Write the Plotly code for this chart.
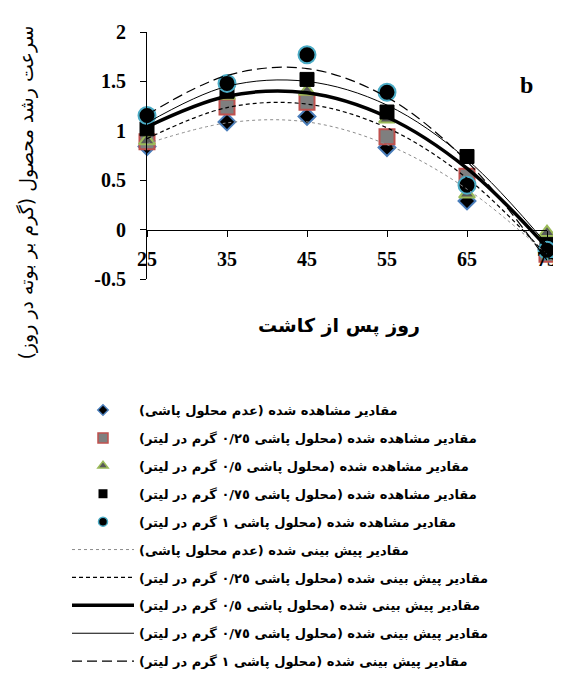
import plotly.graph_objects as go

# ---------------- data ----------------
days = [25, 35, 45, 55, 65, 75]

obs_0 = [0.84, 1.09, 1.145, 0.83, 0.29, -0.20]
obs_025 = [0.89, 1.24, 1.29, 0.94, 0.54, -0.25]
obs_05 = [0.90, 1.36, 1.40, 1.12, 0.36, -0.03]
obs_075 = [1.02, 1.40, 1.52, 1.19, 0.74, -0.15]
obs_1 = [1.155, 1.48, 1.77, 1.39, 0.45, -0.21]

pred_0 = [0.87, 1.08, 1.09, 0.86, 0.41, -0.25]
pred_025 = [0.92, 1.235, 1.27, 1.03, 0.52, -0.26]
pred_05 = [1.04, 1.35, 1.385, 1.14, 0.62, -0.18]
pred_075 = [1.08, 1.45, 1.50, 1.26, 0.71, -0.15]
pred_1 = [1.16, 1.56, 1.63, 1.34, 0.69, -0.31]

x_ticks = [25, 35, 45, 55, 65, 75]
y_ticks = [-0.5, 0, 0.5, 1, 1.5, 2]
y_tick_labels = ["-0.5", "0", "0.5", "1", "1.5", "2"]

names = [
    "مقادیر مشاهده شده (عدم محلول پاشی)",
    "مقادیر مشاهده شده (محلول پاشی ٠/٢٥ گرم در لیتر)",
    "مقادیر مشاهده شده (محلول پاشی ٠/٥ گرم در لیتر)",
    "مقادیر مشاهده شده (محلول پاشی ٠/٧٥ گرم در لیتر)",
    "مقادیر مشاهده شده (محلول پاشی ١ گرم در لیتر)",
    "مقادیر پیش بینی شده (عدم محلول پاشی)",
    "مقادیر پیش بینی شده (محلول پاشی ٠/٢٥ گرم در لیتر)",
    "مقادیر پیش بینی شده (محلول پاشی ٠/٥ گرم در لیتر)",
    "مقادیر پیش بینی شده (محلول پاشی ٠/٧٥ گرم در لیتر)",
    "مقادیر پیش بینی شده (محلول پاشی ١ گرم در لیتر)",
]
y_title = "سرعت رشد محصول (گرم بر بوته در روز)"
x_title = "روز پس از کاشت"
panel_label = "b"

RLM = "\u200f"


def rtl(s):
    return RLM + s + RLM


fig = go.Figure()

obs_series = [obs_0, obs_025, obs_05, obs_075, obs_1]
marker_styles = [
    dict(symbol="diamond", size=13, color="black", line=dict(color="#4a7ebb", width=2)),
    dict(symbol="square", size=15, color="#7f7f7f", line=dict(color="#c0504d", width=2)),
    dict(symbol="triangle-up", size=14, color="#595959", line=dict(color="#9bbb59", width=2)),
    dict(symbol="square", size=14, color="black", line=dict(color="black", width=1)),
    dict(symbol="circle", size=17, color="black", line=dict(color="#4bacc6", width=2)),
]
legend_marker_sizes = [8, 10, 9, 9, 9]
for i, (ys, ms) in enumerate(zip(obs_series, marker_styles)):
    fig.add_trace(go.Scatter(
        x=days, y=ys, mode="markers", marker=ms, name=rtl(names[i]),
        legendgroup=f"g{i}", showlegend=False, cliponaxis=False,
    ))
    small = dict(ms)
    small["size"] = legend_marker_sizes[i]
    small["line"] = dict(color=ms["line"]["color"], width=1.5 if i != 3 else 0)
    fig.add_trace(go.Scatter(
        x=[None], y=[None], mode="markers", marker=small, name=rtl(names[i]),
        legendgroup=f"g{i}", showlegend=True,
    ))

pred_series = [pred_0, pred_025, pred_05, pred_075, pred_1]
line_styles = [
    dict(color="#8c8c8c", width=1, dash="dot"),
    dict(color="black", width=1.2, dash="4px,3px"),
    dict(color="black", width=3.5),
    dict(color="black", width=1),
    dict(color="black", width=1.2, dash="10px,5px"),
]
for j, (ys, ls) in enumerate(zip(pred_series, line_styles)):
    fig.add_trace(go.Scatter(
        x=days, y=ys, mode="lines", line=dict(shape="spline", **ls),
        name=rtl(names[5 + j]), legendgroup=f"g{5 + j}",
    ))

serif_bold = dict(family="Liberation Serif", size=20, color="black", weight="bold")

fig.update_layout(
    width=561, height=680,
    margin=dict(l=139, r=13, t=24, b=403),
    paper_bgcolor="white", plot_bgcolor="white",
    showlegend=True,
    legend=dict(
        x=-0.2, y=-0.47, xanchor="left", yanchor="top",
        font=dict(family="DejaVu Sans", size=13, color="black", weight="bold"),
        traceorder="grouped", tracegroupgap=8, itemwidth=62,
        bgcolor="rgba(0,0,0,0)",
    ),
    xaxis=dict(
        range=[25, 75], tickvals=x_ticks, ticktext=[str(v) for v in x_ticks],
        showgrid=False, zeroline=False, showline=True, linecolor="black", linewidth=1,
        ticks="outside", ticklen=6, tickcolor="black",
        anchor="free", position=0.2, tickfont=serif_bold, ticklabelstandoff=5,
    ),
    yaxis=dict(
        range=[-0.5, 2], tickvals=y_ticks, ticktext=y_tick_labels,
        showgrid=False, zeroline=False, showline=True, linecolor="black", linewidth=1,
        ticks="outside", ticklen=6, tickcolor="black",
        tickfont=serif_bold, ticklabelstandoff=10,
    ),
    annotations=[
        dict(text=rtl(y_title), xref="paper", yref="paper", x=-0.30, y=0.35,
             textangle=-90, showarrow=False, xanchor="center", yanchor="middle",
             font=dict(family="DejaVu Sans", size=19, color="black")),
        dict(text=rtl(x_title), xref="paper", yref="paper", x=0.479, y=-0.19,
             showarrow=False, xanchor="center", yanchor="middle",
             font=dict(family="DejaVu Sans", size=19, color="black", weight="bold")),
        dict(text=panel_label, xref="paper", yref="paper", x=0.949, y=0.787,
             showarrow=False, xanchor="center", yanchor="middle",
             font=dict(family="Liberation Serif", size=24, color="black", weight="bold")),
    ],
)

fig.write_html("out.html")
